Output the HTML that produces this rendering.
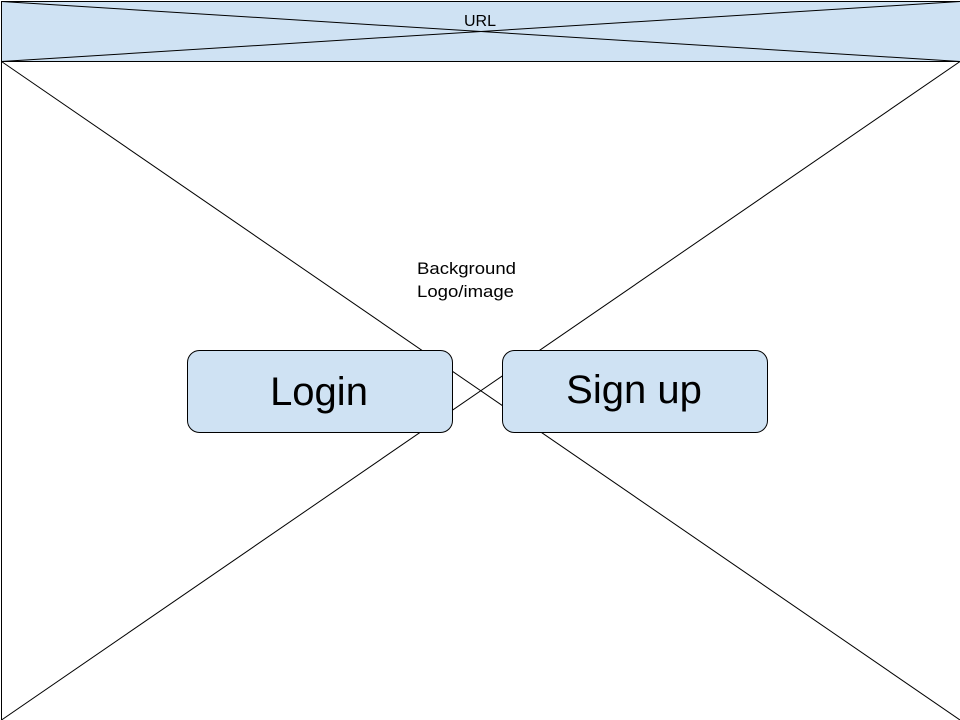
<!DOCTYPE html>
<html><head><style>html,body{margin:0;padding:0;background:#fff}</style></head>
<body>
<svg width="960" height="720" xmlns="http://www.w3.org/2000/svg" style="display:block">
<rect x="1.5" y="1.5" width="960" height="60" fill="#cfe2f3" stroke="#000" stroke-width="1"/>
<line x1="1.5" y1="1.5" x2="960" y2="61.5" stroke="#000" stroke-width="1"/>
<line x1="1.5" y1="61.5" x2="960" y2="1.5" stroke="#000" stroke-width="1"/>
<text x="480" y="26" font-family="Liberation Sans, sans-serif" font-size="16" text-anchor="middle">URL</text>
<rect x="1.5" y="61.5" width="960" height="662" fill="none" stroke="#000" stroke-width="1"/>
<line x1="1.5" y1="61.5" x2="960" y2="720" stroke="#000" stroke-width="1"/>
<line x1="960" y1="61.5" x2="1.5" y2="720" stroke="#000" stroke-width="1"/>
<text x="417" y="274" font-family="Liberation Sans, sans-serif" font-size="17" textLength="99" lengthAdjust="spacingAndGlyphs">Background</text>
<text x="417" y="297" font-family="Liberation Sans, sans-serif" font-size="17" textLength="97" lengthAdjust="spacingAndGlyphs">Logo/image</text>
<rect x="187.5" y="350.5" width="265" height="82" rx="12" fill="#cfe2f3" stroke="#000"/>
<rect x="502.5" y="350.5" width="265" height="82" rx="12" fill="#cfe2f3" stroke="#000"/>
<text x="319" y="405" font-family="Liberation Sans, sans-serif" font-size="40" text-anchor="middle">Login</text>
<text x="634" y="403" font-family="Liberation Sans, sans-serif" font-size="40" text-anchor="middle">Sign up</text>
</svg>
</body></html>
